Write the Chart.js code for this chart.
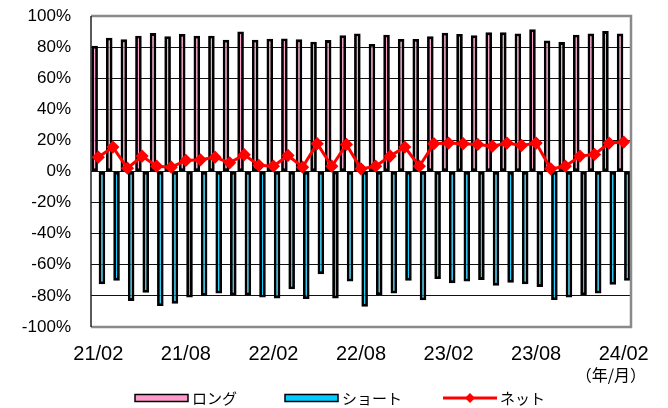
<!DOCTYPE html>
<html>
<head>
<meta charset="utf-8">
<script src="https://cdn.jsdelivr.net/npm/chart.js@4"></script>
<style>
  html, body { margin: 0; padding: 0; background: #fff; }
  #wrap { width: 668px; height: 408px; }
</style>
</head>
<body>
<div id="wrap"><canvas id="myChart"></canvas></div>
<script>
const months = [
    '21/02', '21/03', '21/04', '21/05', '21/06', '21/07', '21/08', '21/09', '21/10', '21/11', '21/12',
    '22/01', '22/02', '22/03', '22/04', '22/05', '22/06', '22/07', '22/08', '22/09', '22/10', '22/11', '22/12',
    '23/01', '23/02', '23/03', '23/04', '23/05', '23/06', '23/07', '23/08', '23/09', '23/10', '23/11', '23/12',
    '24/01', '24/02'
]
const longValues = [80.8, 86, 85, 87.3, 89, 87, 88.4, 87.3, 87.3, 84.7, 90, 84.7, 85.4,
    85.6, 85, 83.4, 84.5, 87.7, 88.8, 82, 88, 85.2, 85.2, 86.9, 89.2, 88.4,
    87.7, 89.5, 89.5, 88.8, 91.4, 84.3, 83.2, 88, 88.8, 90.3, 88.8]
const shortValues = [-72.5, -70.3, -83.2, -78, -86.5, -85, -81, -80, -78.5, -79.6, -79.6, -81, -81.7,
    -75.7, -82, -66, -81.7, -70.8, -86.9, -79.4, -78.5, -70.3, -82.8, -69.2, -71.8, -70.8,
    -69.7, -73.5, -71.6, -72.5, -74.2, -82.6, -81, -79.4, -78.5, -72.9, -70.3]
const netValues = [9.2, 15.7, 2.1, 9.9, 3.4, 2.8, 7.1, 7.5, 9.2, 5.6, 10.8, 4, 3.4,
    10.3, 2.8, 17.9, 3.4, 17.4, 1.7, 3.4, 9.9, 15.7, 3.4, 17.9, 18.3, 17.9,
    17.4, 16.3, 18.3, 16.8, 18.3, 1.7, 3.4, 9.9, 11, 18.3, 18.9]
const seriesNames = ['ロング', 'ショート', 'ネット']
const unitLabel = '（年/月）'

// frame around plot area + unit text + legend
const extras = {
    id: 'extras',
    afterDraw(chart) {
        const ctx = chart.ctx
        const a = chart.chartArea
        ctx.save()
        ctx.strokeStyle = '#8a8a8a'
        ctx.lineWidth = 2.5
        ctx.beginPath()
        ctx.moveTo(a.left, a.top)
        ctx.lineTo(a.right, a.top)
        ctx.lineTo(a.right, a.bottom)
        ctx.lineTo(a.left, a.bottom)
        ctx.stroke()
        ctx.strokeStyle = '#222'
        ctx.lineWidth = 1.5
        ctx.beginPath()
        ctx.moveTo(a.left, a.top)
        ctx.lineTo(a.left, a.bottom)
        ctx.stroke()

        ctx.fillStyle = '#000'
        ctx.font = '16px "Noto Sans CJK JP"'
        ctx.textAlign = 'right'
        ctx.textBaseline = 'middle'
        ctx.fillText(unitLabel, 646, 375)

        // legend
        const ds = chart.data.datasets
        const ly = 398
        ctx.textAlign = 'left'
        ctx.font = '15px "Noto Sans CJK JP"'
        const boxX = [135, 285]
        for (let i = 0; i < 2; i++) {
            ctx.fillStyle = ds[i].backgroundColor
            ctx.fillRect(boxX[i], ly - 3.5, 53, 7)
            ctx.strokeStyle = '#000'
            ctx.lineWidth = 1.5
            ctx.strokeRect(boxX[i], ly - 3.5, 53, 7)
            ctx.fillStyle = '#000'
            ctx.fillText(ds[i].label, boxX[i] + 57, ly)
        }
        ctx.strokeStyle = ds[2].borderColor
        ctx.lineWidth = 3
        ctx.beginPath()
        ctx.moveTo(443, ly)
        ctx.lineTo(497, ly)
        ctx.stroke()
        ctx.fillStyle = ds[2].borderColor
        ctx.beginPath()
        ctx.moveTo(470, ly - 5)
        ctx.lineTo(475, ly)
        ctx.lineTo(470, ly + 5)
        ctx.lineTo(465, ly)
        ctx.closePath()
        ctx.fill()
        ctx.fillStyle = '#000'
        ctx.fillText(ds[2].label, 500, ly)
        ctx.restore()
    }
}

const ctx = document.getElementById('myChart')

new Chart(ctx, {
    type: 'bar',
    data: {
        labels: months,
        datasets: [{
            label: seriesNames[0],
            data: longValues,
            backgroundColor: '#FF99CC',
            borderColor: '#000',
            borderWidth: 2.8,
            borderSkipped: false,
            categoryPercentage: 1.0,
            barPercentage: 0.9,
            order: 1
        }, {
            label: seriesNames[1],
            data: shortValues,
            backgroundColor: '#00CCFF',
            borderColor: '#000',
            borderWidth: 2.8,
            borderSkipped: false,
            categoryPercentage: 1.0,
            barPercentage: 0.9,
            order: 1
        }, {
            type: 'line',
            label: seriesNames[2],
            data: netValues,
            borderColor: '#FF0000',
            backgroundColor: '#FF0000',
            borderWidth: 3,
            pointStyle: 'rectRot',
            pointRadius: 4.5,
            pointBackgroundColor: '#FF0000',
            pointBorderColor: '#FF0000',
            tension: 0,
            order: 0
        }]
    },
    options: {
        responsive: true,
        maintainAspectRatio: false,
        animation: false,
        layout: {
            padding: { left: 0, right: 37, top: 16, bottom: 0 }
        },
        plugins: {
            legend: { display: false },
            tooltip: { enabled: false }
        },
        scales: {
            x: {
                grid: { display: false, drawTicks: false },
                border: { display: false },
                ticks: {
                    autoSkip: false,
                    maxRotation: 0,
                    padding: 15,
                    color: '#000',
                    font: { family: 'Liberation Sans', size: 20 },
                    callback: function (value, index) {
                        return index % 6 === 0 ? months[index] : ''
                    }
                },
                afterFit: function (scale) { scale.height = 81 }
            },
            y: {
                min: -100,
                max: 100,
                ticks: {
                    stepSize: 20,
                    padding: 20,
                    color: '#000',
                    font: { family: 'Liberation Sans', size: 17 },
                    callback: function (value) { return value + '%' }
                },
                grid: {
                    drawTicks: false,
                    color: function (c) {
                        const v = c.tick.value
                        return (v === 100 || v === -100) ? 'rgba(0,0,0,0)' : '#111'
                    },
                    lineWidth: 1
                },
                border: { display: false },
                afterFit: function (scale) {
                    scale.width = 91
                    scale.paddingTop = 0
                    scale.paddingBottom = 0
                }
            }
        }
    },
    plugins: [extras]
});
</script>
</body>
</html>
